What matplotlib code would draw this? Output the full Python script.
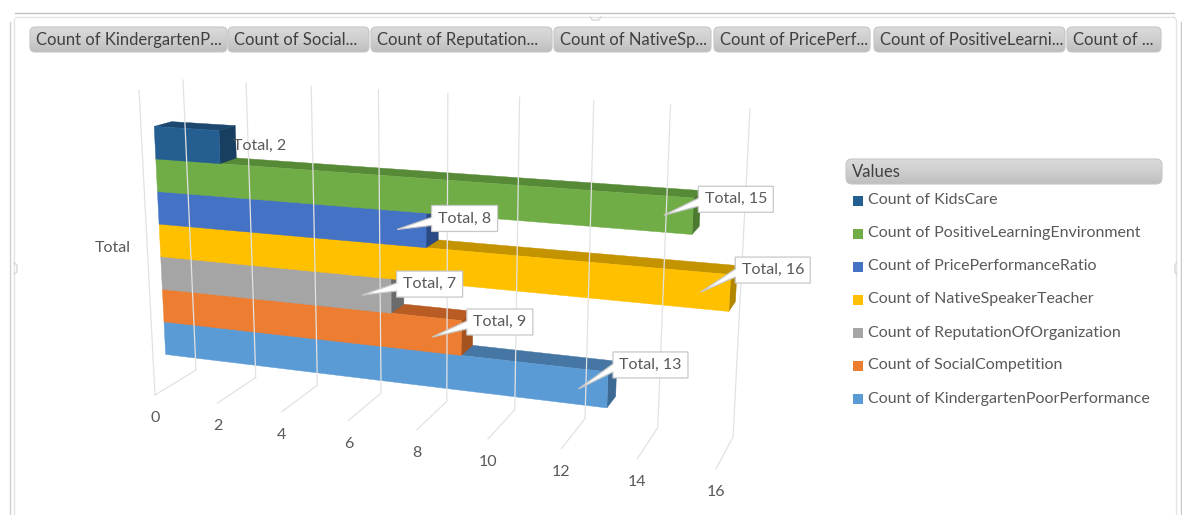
# 3D style clustered bar of survey counts, with pivot field buttons and legend
import numpy as np
import matplotlib
matplotlib.use('Agg')
import matplotlib.pyplot as plt
from matplotlib.colors import LinearSegmentedColormap
from matplotlib.patches import FancyBboxPatch, Polygon, Rectangle

plt.rcParams['font.family'] = ['Lato', 'DejaVu Sans']

# series, bottom bar first
series = ['Count of KindergartenPoorPerformance', 'Count of SocialCompetition',
          'Count of ReputationOfOrganization', 'Count of NativeSpeakerTeacher',
          'Count of PricePerformanceRatio', 'Count of PositiveLearningEnvironment',
          'Count of KidsCare']
values = [13, 9, 7, 16, 8, 15, 2]
ticks = [0, 2, 4, 6, 8, 10, 12, 14, 16]
buttons = ['Count of KindergartenP...', 'Count of Social...', 'Count of Reputation...',
           'Count of NativeSp...', 'Count of PricePerf...', 'Count of PositiveLearni...',
           'Count of ...']

front = ['#5B9BD5', '#ED7D31', '#A5A5A5', '#FFC000', '#4472C4', '#70AD47', '#255E91']
top = ['#4676A3', '#B85C24', '#7F7F7F', '#C49300', '#34578F', '#578A36', '#1C4870']
side = ['#3D6A94', '#A5521F', '#6B6B6B', '#B38600', '#2A4A85', '#4C7A30', '#183F60']

button_edges = [(30, 227), (228, 369), (371, 552), (554, 711), (714, 870), (874, 1065), (1067, 1161)]
# how far each callout box sits above its pointer tip
label_rise = [37, 28, 24, 35, 24, 29]

TEXT = '#595959'
GRID = '#E2E2E2'
FS = 11.5

# corners of the plot box on screen: (value end, height, depth)
corners = {(0, 0, 0): (155, 395), (1, 0, 0): (716, 469), (0, 0, 1): (196, 370), (1, 0, 1): (733, 437),
           (0, 1, 0): (139, 90), (1, 1, 0): (734, 124), (0, 1, 1): (183, 80), (1, 1, 1): (750, 109)}
FORESHORTEN = 1.141
VMAX = 16


def project(v, h, d):
    u = v / VMAX
    t = u / (u + FORESHORTEN * (1 - u))
    out = np.zeros(2)
    for (a, b, c), p in corners.items():
        w = (t if a else 1 - t) * (h if b else 1 - h) * (d if c else 1 - d)
        out += w * np.array(p)
    return out


def face(points, color):
    ax.add_patch(Polygon([project(*p) for p in points], closed=True, fc=color, ec=color, lw=0.3))


def gradient_button(x0, x1, y0, y1, radius):
    box = FancyBboxPatch((x0, y0), x1 - x0, y1 - y0, boxstyle=f'round,pad=0,rounding_size={radius}',
                         fc='none', ec='#C6C6C6', lw=0.8, zorder=3)
    ax.add_patch(box)
    shade = np.linspace(0, 1, 32).reshape(-1, 1)
    im = ax.imshow(shade, cmap=btn_cmap, extent=(x0, x1, y1, y0), aspect='auto', zorder=2, vmin=0, vmax=1)
    im.set_clip_path(box)


fig = plt.figure(figsize=(11.82, 5.15), dpi=100)
ax = fig.add_axes([0, 0, 1, 1])
btn_cmap = LinearSegmentedColormap.from_list('btn', ['#DADADA', '#CFCFCF', '#BEBEBE'])

# outer chart frame
ax.plot([15, 1174], [13, 13], color='#C4C4C4', lw=1)
ax.plot([15, 1174], [17, 17], color='#E4E4E4', lw=1)
ax.plot([9.5, 9.5], [22, 515], color='#D0D0D0', lw=1)
ax.plot([14, 14], [19, 515], color='#E4E4E4', lw=1)
ax.plot([1174, 1176.5, 1176.5], [17, 20, 515], color='#E4E4E4', lw=1)
ax.plot([1180.5, 1180.5], [22, 515], color='#C8C8C8', lw=1)

# resize handles break the frame lines
ax.add_patch(Rectangle((591, 10), 9, 9.5, fc='white', ec='none', zorder=1))
ax.plot([590.5, 592, 599, 600.5], [17, 20, 20, 17], color='#D8D8D8', lw=1)
ax.add_patch(Rectangle((8, 263), 9, 11, fc='white', ec='none', zorder=1))
ax.plot([14, 17, 17, 14], [263, 265, 272, 274], color='#D8D8D8', lw=1)
ax.add_patch(Rectangle((1175, 263), 7, 11, fc='white', ec='none', zorder=1))
ax.plot([1176.5, 1175, 1175, 1176.5], [263, 265, 272, 274], color='#D8D8D8', lw=1)

# field buttons
for (x0, x1), name in zip(button_edges, buttons):
    gradient_button(x0, x1, 27, 52, 5)
    ax.text(x0 + 6, 40, name, color='#404040', fontsize=12, va='center', ha='left', zorder=4)

# walls and floor lines
for v in ticks:
    xs, ys = zip(project(v, 0, 0), project(v, 0, 1), project(v, 1, 1))
    ax.plot(xs, ys, color=GRID, lw=0.9)
    x, y = project(v, 0, 0)
    ax.text(x, y + 23, str(v), color=TEXT, fontsize=FS, ha='center', va='center')
xs, ys = zip(project(0, 1, 0), project(0, 0, 0))
ax.plot(xs, ys, color=GRID, lw=0.9)

# bars are stacked up the height axis, lowest first so upper bars cover lower tops
h0, dh = 0.11, 0.1084
d0, d1 = 0.3, 0.7
for i, v in enumerate(values):
    lo, hi = h0 + i * dh, h0 + (i + 1) * dh
    face([(0, hi, d0), (v, hi, d0), (v, hi, d1), (0, hi, d1)], top[i])
    face([(v, lo, d0), (v, hi, d0), (v, hi, d1), (v, lo, d1)], side[i])
    face([(0, lo, d0), (v, lo, d0), (v, hi, d0), (0, hi, d0)], front[i])

# data labels, the shortest bar has no callout box
k = 0
for i, v in enumerate(values):
    end = project(v, h0 + (i + 0.5) * dh, d0)
    label = f'Total, {v}'
    if v == 2:
        ax.text(end[0] + 13, end[1] - 1, label, color=TEXT, fontsize=FS, va='center', zorder=6)
        continue
    tip = end + np.array([-29, -1])
    left = tip[0] + 34.5
    upper = tip[1] - label_rise[k]
    k += 1
    w = 75 if v >= 10 else 66
    ax.add_patch(Polygon([(left, upper), (left + w, upper), (left + w, upper + 26), (left, upper + 26),
                          (left, upper + 20), tip, (left, upper + 12)], closed=True,
                         fc='white', ec='#C8C8C8', lw=0.9, zorder=5))
    ax.text(left + w / 2, upper + 13, label, color=TEXT, fontsize=FS, ha='center', va='center', zorder=6)

ax.text(113, 248, 'Total', color=TEXT, fontsize=FS, ha='center', va='center')

# legend panel
gradient_button(846, 1162, 159, 184, 6)
ax.text(852, 172, 'Values', color='#404040', fontsize=12, va='center', zorder=4)
for n, i in enumerate(range(len(series) - 1, -1, -1)):
    y = 200 + n * 33
    ax.add_patch(Rectangle((853, y - 4.5), 10, 10, fc=front[i], ec='none'))
    ax.text(868, y + 0.5, series[i], color=TEXT, fontsize=FS, va='center')

ax.set_xlim(0, 1182)
ax.set_ylim(515, 0)
ax.axis('off')
fig.savefig('out.png', dpi=100)
